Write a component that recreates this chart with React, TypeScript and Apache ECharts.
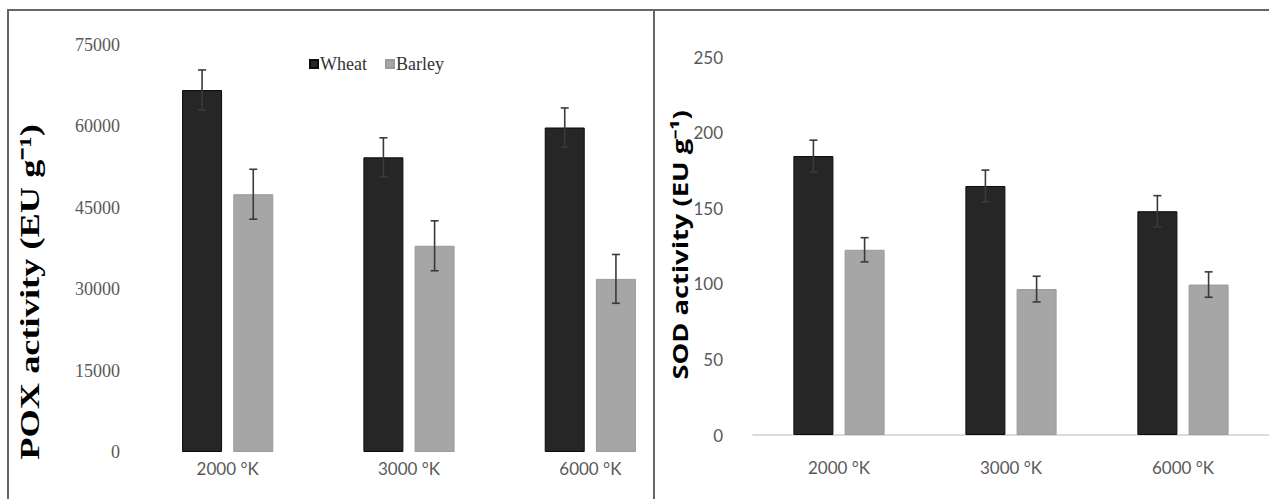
import React, { useEffect, useRef } from "react";
import * as echarts from "echarts";

const categories = ["2000 °K", "3000 °K", "6000 °K"];
const seriesNames = ["Wheat", "Barley"];

const poxWheat = [66700, 54300, 59800];
const poxWheatErr = [3700, 3600, 3600];
const poxBarley = [47500, 38000, 31900];
const poxBarleyErr = [4600, 4600, 4500];

const sodWheat = [184.5, 164.7, 148];
const sodWheatErr = [10.5, 10.5, 10.3];
const sodBarley = [122.5, 96.5, 99.5];
const sodBarleyErr = [8, 8.5, 8.4];

const poxTicks = [0, 15000, 30000, 45000, 60000, 75000];
const sodTicks = [0, 50, 100, 150, 200, 250];

const WHEAT = "#262626";
const BARLEY = "#a6a6a6";

function errSeries(
  values: number[],
  errs: number[],
  axisIndex: number,
  offset: number
) {
  const data = values.map((v, i) => [i, v - errs[i], v + errs[i]]);
  return {
    type: "custom",
    xAxisIndex: axisIndex,
    yAxisIndex: axisIndex,
    silent: true,
    z: 5,
    data,
    encode: { x: 0, y: [1, 2] },
    renderItem: (params: any, api: any) => {
      const lo = api.coord([api.value(0), api.value(1)]);
      const hi = api.coord([api.value(0), api.value(2)]);
      const x = lo[0] + offset;
      const cap = 4;
      const style = { stroke: "#3a3a3a", lineWidth: 1.6 };
      return {
        type: "group",
        children: [
          { type: "line", shape: { x1: x, y1: hi[1], x2: x, y2: lo[1] }, style },
          { type: "line", shape: { x1: x - cap, y1: hi[1], x2: x + cap, y2: hi[1] }, style },
          { type: "line", shape: { x1: x - cap, y1: lo[1], x2: x + cap, y2: lo[1] }, style },
        ],
      };
    },
  };
}

export default function App() {
  const ref = useRef<HTMLDivElement>(null);

  useEffect(() => {
    if (!ref.current) return;
    const chart = echarts.init(ref.current, undefined, { renderer: "svg" });
    const barW = 40;
    const gapPct = "28%";
    const off = (barW + barW * 0.28) / 2;
    const plain = (v: number) => String(v);

    const option: any = {
      animation: false,
      backgroundColor: "#ffffff",
      legend: {
        data: seriesNames,
        left: 304,
        top: 50,
        icon: "rect",
        itemWidth: 8,
        itemHeight: 8,
        itemGap: 18,
        textStyle: {
          fontFamily: "Liberation Serif",
          fontSize: 18,
          color: "#333333",
          padding: [0, 0, 0, -3],
        },
      },
      grid: [
        { left: 137, top: 45, width: 544, height: 407 },
        { left: 753, top: 57, width: 544, height: 378 },
      ],
      xAxis: [
        {
          type: "category",
          gridIndex: 0,
          data: categories,
          axisLine: { show: false },
          axisTick: { show: false },
          axisLabel: {
            fontFamily: "Lato",
            fontSize: 17,
            color: "#595959",
            margin: 8,
          },
        },
        {
          type: "category",
          gridIndex: 1,
          data: categories,
          axisLine: { show: true, lineStyle: { color: "#d0d0d0", width: 1.5 } },
          axisTick: { show: false },
          axisLabel: {
            fontFamily: "Lato",
            fontSize: 17,
            color: "#595959",
            margin: 24,
          },
        },
      ],
      yAxis: [
        {
          type: "value",
          gridIndex: 0,
          min: poxTicks[0],
          max: poxTicks[poxTicks.length - 1],
          interval: poxTicks[1] - poxTicks[0],
          axisLine: { show: false },
          axisTick: { show: false },
          splitLine: { show: false },
          axisLabel: {
            formatter: plain,
            fontFamily: "Liberation Serif",
            fontSize: 18,
            color: "#595959",
            margin: 17,
          },
        },
        {
          type: "value",
          gridIndex: 1,
          min: sodTicks[0],
          max: sodTicks[sodTicks.length - 1],
          interval: sodTicks[1] - sodTicks[0],
          axisLine: { show: false },
          axisTick: { show: false },
          splitLine: { show: false },
          axisLabel: {
            formatter: plain,
            fontFamily: "Lato",
            fontSize: 17,
            color: "#595959",
            margin: 30,
          },
        },
      ],
      series: [
        {
          name: "Wheat",
          type: "bar",
          xAxisIndex: 0,
          yAxisIndex: 0,
          data: poxWheat,
          barWidth: barW,
          barGap: gapPct,
          itemStyle: { color: WHEAT, borderColor: "#0a0a0a", borderWidth: 1 },
        },
        {
          name: "Barley",
          type: "bar",
          xAxisIndex: 0,
          yAxisIndex: 0,
          data: poxBarley,
          barWidth: barW,
          barGap: gapPct,
          itemStyle: { color: BARLEY, borderColor: "#9a9a9a", borderWidth: 1 },
        },
        {
          name: "Wheat",
          type: "bar",
          xAxisIndex: 1,
          yAxisIndex: 1,
          data: sodWheat,
          barWidth: barW,
          barGap: gapPct,
          itemStyle: { color: WHEAT, borderColor: "#0a0a0a", borderWidth: 1 },
        },
        {
          name: "Barley",
          type: "bar",
          xAxisIndex: 1,
          yAxisIndex: 1,
          data: sodBarley,
          barWidth: barW,
          barGap: gapPct,
          itemStyle: { color: BARLEY, borderColor: "#9a9a9a", borderWidth: 1 },
        },
        errSeries(poxWheat, poxWheatErr, 0, -off),
        errSeries(poxBarley, poxBarleyErr, 0, off),
        errSeries(sodWheat, sodWheatErr, 1, -off),
        errSeries(sodBarley, sodBarleyErr, 1, off),
      ],
      graphic: [
        {
          type: "line",
          shape: { x1: 7, y1: 10, x2: 1269, y2: 10 },
          style: { stroke: "#666666", lineWidth: 2 },
        },
        {
          type: "line",
          shape: { x1: 8, y1: 10, x2: 8, y2: 499 },
          style: { stroke: "#666666", lineWidth: 2 },
        },
        {
          type: "line",
          shape: { x1: 654, y1: 10, x2: 654, y2: 499 },
          style: { stroke: "#666666", lineWidth: 2 },
        },
        {
          type: "text",
          x: 30,
          y: 292,
          rotation: Math.PI / 2,
          scaleX: 1.3,
          style: {
            text: "POX activity (EU g⁻¹)",
            fontFamily: "Liberation Serif",
            fontWeight: "bold",
            fontSize: 28,
            fill: "#000000",
            textAlign: "center",
            textVerticalAlign: "middle",
          },
        },
        {
          type: "text",
          x: 680,
          y: 245,
          rotation: Math.PI / 2,
          scaleX: 1.3,
          style: {
            text: "SOD activity (EU g⁻¹)",
            fontFamily: "Open Sans",
            fontWeight: "bold",
            fontSize: 21,
            fill: "#000000",
            textAlign: "center",
            textVerticalAlign: "middle",
          },
        },
      ],
    };
    chart.setOption(option);
    return () => chart.dispose();
  }, []);

  return (
    <div
      ref={ref}
      style={{ position: "fixed", left: 0, top: 0, width: 1269, height: 499 }}
    />
  );
}
